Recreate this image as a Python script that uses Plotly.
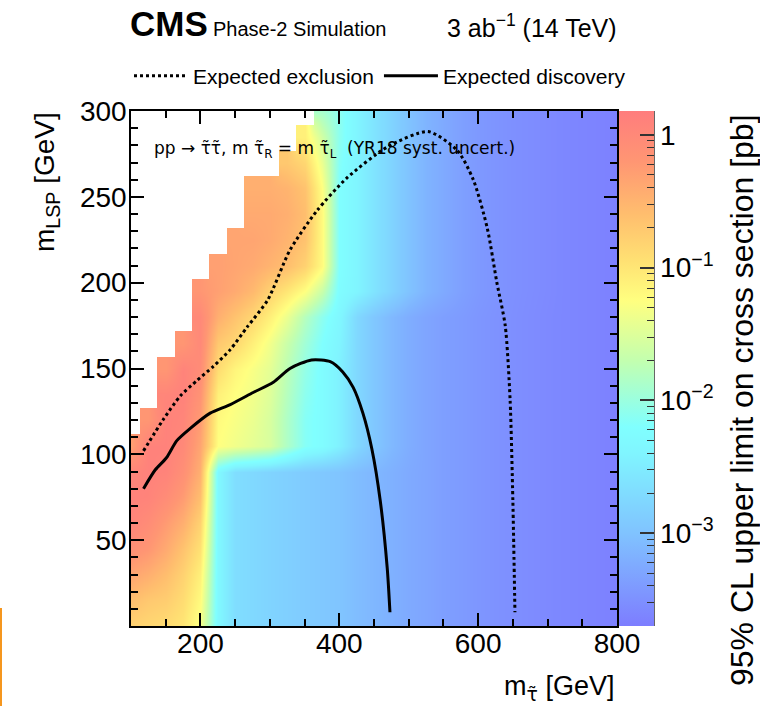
import numpy as np
import plotly.graph_objects as go

# ---------------- data ----------------
# grid nodes (GeV)
m_stau = list(range(100, 801, 25))      # 29 columns
m_lsp = list(range(0, 301, 15))         # 21 rows
N = None
# log10(95% CL upper limit on cross section [pb]); None = not computed (white)
row_000 = [-0.8, -0.85, -0.9, -1.0, -1.3, -2.35, -2.68, -2.74, -2.8, -2.85, -2.9, -2.94, -2.98, -3.06, -3.12, -3.18, -3.25, -3.3, -3.36, -3.4, -3.45, -3.49, -3.52, -3.55, -3.58, -3.6, -3.62, -3.64, -3.66]
row_015 = [-0.6, -0.7, -0.75, -0.9, -1.2, -2.35, -2.68, -2.74, -2.8, -2.85, -2.9, -2.94, -2.98, -3.06, -3.12, -3.18, -3.25, -3.3, -3.36, -3.4, -3.45, -3.49, -3.52, -3.55, -3.58, -3.6, -3.62, -3.64, -3.66]
row_030 = [-0.35, -0.45, -0.6, -0.8, -1.1, -2.35, -2.68, -2.74, -2.8, -2.85, -2.9, -2.94, -2.98, -3.06, -3.12, -3.18, -3.25, -3.3, -3.36, -3.4, -3.45, -3.49, -3.52, -3.55, -3.58, -3.6, -3.62, -3.64, -3.66]
row_045 = [-0.1, -0.2, -0.4, -0.65, -0.95, -2.35, -2.68, -2.74, -2.8, -2.85, -2.9, -2.94, -2.98, -3.06, -3.12, -3.18, -3.25, -3.3, -3.36, -3.4, -3.45, -3.49, -3.52, -3.55, -3.58, -3.6, -3.62, -3.64, -3.66]
row_060 = [0.05, -0.05, -0.25, -0.45, -0.8, -2.35, -2.68, -2.74, -2.8, -2.85, -2.9, -2.94, -2.98, -3.06, -3.12, -3.18, -3.25, -3.3, -3.36, -3.4, -3.45, -3.49, -3.52, -3.55, -3.58, -3.6, -3.62, -3.64, -3.66]
row_075 = [0.1, 0.08, -0.05, -0.25, -0.6, -2.35, -2.68, -2.74, -2.8, -2.85, -2.9, -2.94, -2.98, -3.06, -3.12, -3.18, -3.25, -3.3, -3.36, -3.4, -3.45, -3.49, -3.52, -3.55, -3.58, -3.6, -3.62, -3.64, -3.66]
row_090 = [0.05, 0.1, 0.08, -0.1, -0.45, -2.35, -2.68, -2.74, -2.8, -2.85, -2.9, -2.94, -2.98, -3.06, -3.12, -3.18, -3.25, -3.3, -3.36, -3.4, -3.45, -3.49, -3.52, -3.55, -3.58, -3.6, -3.62, -3.64, -3.66]
row_105 = [-0.3, 0.1, 0.1, 0.0, -0.35, -1.25, -1.35, -1.45, -1.55, -1.85, -2.15, -2.25, -2.45, -2.75, -2.95, -3.1, -3.22, -3.3, -3.36, -3.4, -3.45, -3.49, -3.52, -3.55, -3.58, -3.6, -3.62, -3.64, -3.66]
row_120 = [N, -0.2, 0.1, 0.05, -0.25, -1.2, -1.3, -1.4, -1.55, -1.85, -2.15, -2.25, -2.45, -2.75, -2.95, -3.1, -3.22, -3.3, -3.36, -3.4, -3.45, -3.49, -3.52, -3.55, -3.58, -3.6, -3.62, -3.64, -3.66]
row_135 = [N, N, 0.05, 0.1, -0.15, -1.1, -1.25, -1.35, -1.5, -1.8, -2.1, -2.25, -2.45, -2.75, -2.95, -3.1, -3.22, -3.3, -3.36, -3.4, -3.45, -3.49, -3.52, -3.55, -3.58, -3.6, -3.62, -3.64, -3.66]
row_150 = [N, N, -0.2, 0.08, -0.05, -0.9, -1.15, -1.3, -1.45, -1.75, -2.05, -2.25, -2.45, -2.75, -2.95, -3.1, -3.22, -3.3, -3.36, -3.4, -3.45, -3.49, -3.52, -3.55, -3.58, -3.6, -3.62, -3.64, -3.66]
row_165 = [N, N, N, -0.2, 0.0, -0.7, -0.85, -1.1, -1.35, -1.65, -1.95, -2.2, -2.4, -2.75, -2.95, -3.1, -3.22, -3.3, -3.36, -3.4, -3.45, -3.49, -3.52, -3.55, -3.58, -3.6, -3.62, -3.64, -3.66]
row_180 = [N, N, N, N, 0.0, -0.45, -0.65, -0.85, -1.1, -1.4, -1.8, -2.1, -2.35, -2.75, -2.95, -3.1, -3.22, -3.3, -3.36, -3.4, -3.45, -3.49, -3.52, -3.55, -3.58, -3.6, -3.62, -3.64, -3.66]
row_195 = [N, N, N, N, -0.2, -0.3, -0.4, -0.55, -0.8, -1.0, -1.25, -1.65, -2.25, -2.4, -2.6, -2.8, -3.0, -3.15, -3.25, -3.35, -3.42, -3.47, -3.51, -3.54, -3.57, -3.6, -3.62, -3.64, -3.66]
row_210 = [N, N, N, N, N, -0.3, -0.35, -0.4, -0.5, -0.6, -0.8, -1.2, -2.2, -2.4, -2.6, -2.8, -3.0, -3.15, -3.25, -3.35, -3.42, -3.47, -3.51, -3.54, -3.57, -3.6, -3.62, -3.64, -3.66]
row_225 = [N, N, N, N, N, N, -0.35, -0.35, -0.4, -0.5, -0.65, -1.2, -2.2, -2.4, -2.6, -2.8, -3.0, -3.15, -3.25, -3.35, -3.42, -3.47, -3.51, -3.54, -3.57, -3.6, -3.62, -3.64, -3.66]
row_240 = [N, N, N, N, N, N, N, -0.4, -0.4, -0.45, -0.6, -1.2, -2.2, -2.4, -2.6, -2.8, -3.0, -3.15, -3.25, -3.35, -3.42, -3.47, -3.51, -3.54, -3.57, -3.6, -3.62, -3.64, -3.66]
row_255 = [N, N, N, N, N, N, N, -0.45, -0.45, -0.5, -0.65, -1.25, -2.2, -2.4, -2.6, -2.8, -3.0, -3.15, -3.25, -3.35, -3.42, -3.47, -3.51, -3.54, -3.57, -3.6, -3.62, -3.64, -3.66]
row_270 = [N, N, N, N, N, N, N, N, N, -0.7, -0.85, -1.4, -2.15, -2.4, -2.6, -2.8, -3.0, -3.15, -3.25, -3.35, -3.42, -3.47, -3.51, -3.54, -3.57, -3.6, -3.62, -3.64, -3.66]
row_285 = [N, N, N, N, N, N, N, N, N, N, -1.1, -1.6, -2.1, -2.4, -2.6, -2.8, -3.0, -3.15, -3.25, -3.35, -3.42, -3.47, -3.51, -3.54, -3.57, -3.6, -3.62, -3.64, -3.66]
row_300 = [N, N, N, N, N, N, N, N, N, N, N, -1.9, -2.1, -2.4, -2.6, -2.8, -3.0, -3.15, -3.25, -3.35, -3.42, -3.47, -3.51, -3.54, -3.57, -3.6, -3.62, -3.64, -3.66]
log_limit = [row_000, row_015, row_030, row_045, row_060, row_075, row_090, row_105,
             row_120, row_135, row_150, row_165, row_180, row_195, row_210, row_225,
             row_240, row_255, row_270, row_285, row_300]

# contours (m_stau, m_LSP) in GeV
excl_x = [118, 146, 171, 195, 218, 243, 267, 297, 329, 368, 411, 469, 528, 570, 593, 613, 627, 639, 646, 650, 653]
excl_y = [102, 120, 134, 143, 151, 161, 174, 190, 219, 242, 261, 279, 288, 277, 260, 232, 200, 175, 132, 73, 8]
disc_x = [118, 135, 151, 166, 185, 214, 243, 276, 305, 329, 360, 387, 405, 420, 434, 447, 459, 469, 473]
disc_y = [80, 91, 98, 108, 115, 124, 129, 136, 142, 150, 155, 154, 148, 139, 124, 103, 73, 34, 8]

x_tick_vals = [200, 400, 600, 800]
x_tick_text = ["200", "400", "600", "800"]
y_tick_vals = [50, 100, 150, 200, 250, 300]
y_tick_text = ["50", "100", "150", "200", "250", "300"]
cb_tick_vals = [-3, -2, -1, 0]
cb_tick_text = ["10<sup>−3</sup>", "10<sup>−2</sup>", "10<sup>−1</sup>", "1"]
Z_MIN, Z_MAX = -3.7, 0.18

# ---------------- style ----------------
def nrm(v):
    return (v - Z_MIN) / (Z_MAX - Z_MIN)

cscale = [
    [nrm(-3.7), "rgb(125,125,255)"],
    [nrm(-3.0), "rgb(128,195,255)"],
    [nrm(-2.4), "rgb(128,245,255)"],
    [nrm(-2.2), "rgb(128,255,255)"],
    [nrm(-1.7), "rgb(195,255,175)"],
    [nrm(-1.25), "rgb(255,255,128)"],
    [nrm(-0.95), "rgb(255,225,115)"],
    [nrm(-0.6), "rgb(255,190,110)"],
    [nrm(-0.2), "rgb(255,150,115)"],
    [nrm(0.18), "rgb(255,125,125)"],
]

FONT = "Liberation Sans, Arial, Helvetica, sans-serif"
DJ = "DejaVu Sans, sans-serif"
L, R, T, B = 131, 143, 111, 80
W, H = 760, 706
PW, PH = W - L - R, H - T - B

def px(xp):
    return (xp - L) / PW

def py(yp):
    return (H - B - yp) / PH

minor_cb = []
for d in range(-4, 1):
    for k in range(2, 10):
        v = d + np.log10(k)
        if Z_MIN < v < Z_MAX:
            minor_cb.append(float(v))

cb_geom = dict(x=px(619), xanchor="left", xpad=0, ypad=0, y=0.5, yanchor="middle",
               len=1, lenmode="fraction", thickness=35, outlinewidth=0)

fig = go.Figure()
fig.add_trace(go.Heatmap(
    x=m_stau, y=m_lsp, z=log_limit, zsmooth="best", zmin=Z_MIN, zmax=Z_MAX,
    colorscale=cscale, hoverinfo="skip", showscale=True,
    colorbar=dict(**cb_geom, tickmode="array", tickvals=minor_cb,
                  ticks="inside", ticklen=7, tickwidth=1.3, tickcolor="#333",
                  showticklabels=False),
))
fig.add_trace(go.Scatter(
    x=excl_x, y=excl_y, mode="lines", name="Expected exclusion",
    line=dict(color="black", width=3, dash="3px,3px", shape="spline", smoothing=0.7),
))
fig.add_trace(go.Scatter(
    x=disc_x, y=disc_y, mode="lines", name="Expected discovery",
    line=dict(color="black", width=3, shape="spline", smoothing=0.7),
))
fig.add_trace(go.Scatter(
    x=[None], y=[None], mode="markers", showlegend=False, hoverinfo="skip",
    marker=dict(color=[0], cmin=Z_MIN, cmax=Z_MAX,
                colorscale=[[0, "rgba(0,0,0,0)"], [1, "rgba(0,0,0,0)"]], showscale=True,
                colorbar=dict(**cb_geom, tickmode="array", tickvals=cb_tick_vals, ticktext=cb_tick_text,
                              ticks="inside", ticklen=14, tickwidth=1.5, tickcolor="#333",
                              tickfont=dict(size=28, family=FONT, color="black"))),
))

axis_common = dict(ticks="inside", tickwidth=1.5, tickcolor="black", showline=True, linewidth=1.5,
                   linecolor="black", mirror="allticks", showgrid=False, zeroline=False,
                   tickfont=dict(size=28, family=FONT, color="black"))
fig.update_layout(
    width=W, height=H, margin=dict(l=L, r=R, t=T, b=B),
    paper_bgcolor="white", plot_bgcolor="white",
    font=dict(family=FONT, color="black"),
    xaxis=dict(range=[100, 800], tickmode="array", tickvals=x_tick_vals, ticktext=x_tick_text, ticklen=13,
               ticklabelstandoff=-8,
               minor=dict(dtick=50, tick0=0, ticks="inside", ticklen=7, tickwidth=1.5, tickcolor="black",
                          showgrid=False),
               **axis_common),
    yaxis=dict(range=[0, 300], tickmode="array", tickvals=y_tick_vals, ticktext=y_tick_text, ticklen=13,
               ticklabelstandoff=-3,
               minor=dict(dtick=10, tick0=0, ticks="inside", ticklen=7, tickwidth=1.5, tickcolor="black",
                          showgrid=False),
               **axis_common),
    legend=dict(orientation="h", x=px(129), xanchor="left", y=py(76), yanchor="middle",
                font=dict(size=21, family=FONT, color="black"), bgcolor="rgba(0,0,0,0)",
                itemwidth=54, tracegroupgap=0),
    showlegend=True,
)

tau_t = "<span style='font-family:DejaVu Sans'>τ̃</span>"
annotations = [
    dict(text="<b>CMS</b>", x=px(128), y=py(24), xanchor="left", yanchor="middle",
         font=dict(size=35, family=FONT, color="black")),
    dict(text="Phase-2 Simulation", x=px(211), y=py(29), xanchor="left", yanchor="middle",
         font=dict(size=20, family=FONT, color="black")),
    dict(text="3 ab<sup>−1</sup> (14 TeV)", x=px(619), y=py(26), xanchor="right", yanchor="middle",
         font=dict(size=25, family=FONT, color="black")),
    dict(text="pp → τ̃τ̃, m τ̃<sub>R</sub> = m τ̃<sub>L</sub>  (YR18 syst. uncert.)", x=px(152), y=py(149),
         xanchor="left", yanchor="middle", font=dict(size=17, family=DJ, color="black")),
    dict(text="m<sub>" + tau_t + "</sub> [GeV]", x=px(616), y=py(688), xanchor="right", yanchor="middle",
         font=dict(size=27, family=FONT, color="black")),
    dict(text="m<sub>LSP</sub> [GeV]", x=px(47), y=py(110), xanchor="center", yanchor="top",
         textangle=-90, font=dict(size=28, family=FONT, color="black")),
    dict(text="95% CL upper limit on cross section [pb]", x=px(742), y=py(112), xanchor="center",
         yanchor="top", textangle=-90, font=dict(size=32, family=FONT, color="black")),
]
for a in annotations:
    a.update(xref="paper", yref="paper", showarrow=False)
fig.update_layout(annotations=annotations)

# colour-bar axis line and the cropped orange edge seen at the picture's lower left
fig.add_shape(type="line", xref="paper", yref="paper", x0=px(654), x1=px(654), y0=0, y1=1,
              line=dict(color="#333", width=1.5))
fig.add_shape(type="line", xref="paper", yref="paper", x0=px(1), x1=px(1), y0=py(608), y1=py(706),
              line=dict(color="rgb(245,150,30)", width=2))

fig.write_html("out.html", config={"displayModeBar": False},
               post_script="document.body.style.margin='0px';")
